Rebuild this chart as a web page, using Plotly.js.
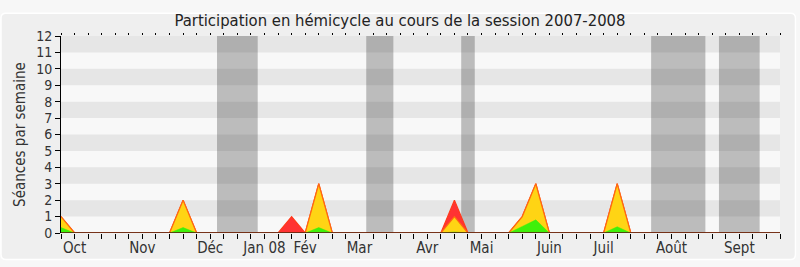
<!DOCTYPE html>
<html><head><meta charset="utf-8">
<script src="https://cdn.plot.ly/plotly-3.0.1.min.js"></script>
<style>body{margin:0;background:#f7f7f7}#chart{width:800px;height:267px}</style>
</head><body><div id="chart"></div>
<script>
// weeks 0..53 (Oct 2007 -> Sept 2008)
const weeks = Array.from({length: 54}, (_, i) => i);
// total participation (red), hemicycle presence (yellow), interventions (green)
const redVals =    [1,0,0,0,0,0,0,0,0,2,0,0,0,0,0,0,0,1,0,3,0,0,0,0,0,0,0,0,0,2,0,0,0,0,1,3,0,0,0,0,0,3,0,0,0,0,0,0,0,0,0,0,0,0];
const yellowVals = [1,0,0,0,0,0,0,0,0,2,0,0,0,0,0,0,0,0,0,3,0,0,0,0,0,0,0,0,0,1,0,0,0,0,1,3,0,0,0,0,0,3,0,0,0,0,0,0,0,0,0,0,0,0];
const greenVals =  [0.33,0,0,0,0,0,0,0,0,0.33,0,0,0,0,0,0,0,0,0,0.33,0,0,0,0,0,0,0,0,0,0.06,0,0,0,0,0.4,0.8,0,0,0,0,0,0.38,0,0,0,0,0,0,0,0,0,0,0,0];
// month labels and the week they sit on
const monthLabels = ["Oct","Nov","Déc","Jan 08","Fév","Mar","Avr","Mai","Juin","Juil","Août","Sept"];
const monthWeeks  = [1,6,11,15,18,22,27,31,36,40,45,50];
// vacation periods (start week, end week)
const vacStart = [11.5,22.5,29.5,43.5,48.5];
const vacEnd   = [14.5,24.5,30.5,47.5,51.5];
const yTicks = [0,1,2,3,4,5,6,7,8,9,10,11,12];

const tickText = weeks.map(w => { const k = monthWeeks.indexOf(w); return k >= 0 ? monthLabels[k] : ""; });

const shapes = [];
// rounded frame
shapes.push({type:"path", xref:"paper", yref:"paper",
  path:"M -0.0765,1.115 L 1.0145,1.115 Q 1.0215,1.115 1.0215,1.09 L 1.0215,-0.108 Q 1.0215,-0.135 1.0145,-0.135 L -0.0765,-0.135 Q -0.0835,-0.135 -0.0835,-0.108 L -0.0835,1.09 Q -0.0835,1.115 -0.0765,1.115 Z",
  fillcolor:"#efefef", line:{color:"#ffffff", width:1.5}, layer:"below"});
// plot area background
shapes.push({type:"rect", xref:"paper", yref:"paper", x0:0, x1:1, y0:0, y1:1, fillcolor:"#f8f8f8", line:{width:0}, layer:"below"});
// horizontal stripes
for (let v = 1; v < 12; v += 2) {
  shapes.push({type:"rect", xref:"paper", yref:"y", x0:0, x1:1, y0:v, y1:v+1, fillcolor:"#e6e6e6", line:{width:0}, layer:"below"});
}
// vacation bands
for (let i = 0; i < vacStart.length; i++) {
  shapes.push({type:"rect", xref:"x", yref:"paper", x0:vacStart[i], x1:vacEnd[i], y0:0, y1:1, fillcolor:"rgba(0,0,0,0.24)", line:{width:0}, layer:"below"});
}

const traces = [
  {x: weeks, y: redVals, type:"scatter", mode:"lines", fill:"tozeroy", fillcolor:"#ff3333", line:{color:"#ff3a1a", width:1.2}, hoverinfo:"skip"},
  {x: weeks, y: yellowVals, type:"scatter", mode:"lines", fill:"tozeroy", fillcolor:"#ffd414", line:{color:"#ff6a10", width:1.2}, hoverinfo:"skip"},
  {x: weeks, y: greenVals, type:"scatter", mode:"lines", fill:"tozeroy", fillcolor:"#3ff00a", line:{color:"#3ff00a", width:0.5}, hoverinfo:"skip"},
  {x: weeks, y: weeks.map(() => 0), xaxis:"x2", type:"scatter", mode:"lines", line:{color:"#5a1010", width:1.3}, hoverinfo:"skip"}
];

const font = "DejaVu Sans Condensed, DejaVu Sans, sans-serif";
const layout = {
  width: 800, height: 267,
  margin: {l: 61, r: 20, t: 36, b: 34},
  paper_bgcolor: "#f7f7f7",
  plot_bgcolor: "#f8f8f8",
  showlegend: false,
  title: {text: "Participation en hémicycle au cours de la session 2007-2008", x: 0.5, xanchor: "center", y: 0.925, yanchor: "middle",
          font: {family: font, size: 16.5, color: "#222"}},
  xaxis: {range: [0, 53], tickmode: "array", tickvals: weeks, ticktext: tickText, ticks: "outside", ticklen: 5, tickcolor: "#000", tickwidth: 1,
          ticklabelstandoff: -4,
          showgrid: false, zeroline: false, showline: false, tickfont: {family: font, size: 15, color: "#333"}, fixedrange: true},
  xaxis2: {overlaying: "x", side: "top", range: [0, 53], tickmode: "array", tickvals: weeks, ticks: "outside", ticklen: 2, tickcolor: "#000",
           showticklabels: false, showgrid: false, zeroline: false, showline: false},
  yaxis: {range: [0, 12], tickmode: "array", tickvals: yTicks, ticks: "outside", ticklen: 5, tickcolor: "#000", showgrid: false, zeroline: false,
          showline: true, linecolor: "#000", linewidth: 1, tickfont: {family: font, size: 14, color: "#333"},
          title: {text: "Séances par semaine", font: {family: font, size: 15, color: "#333"}, standoff: 6}},
  shapes: shapes
};
Plotly.newPlot("chart", traces, layout, {staticPlot: true});
</script></body></html>
